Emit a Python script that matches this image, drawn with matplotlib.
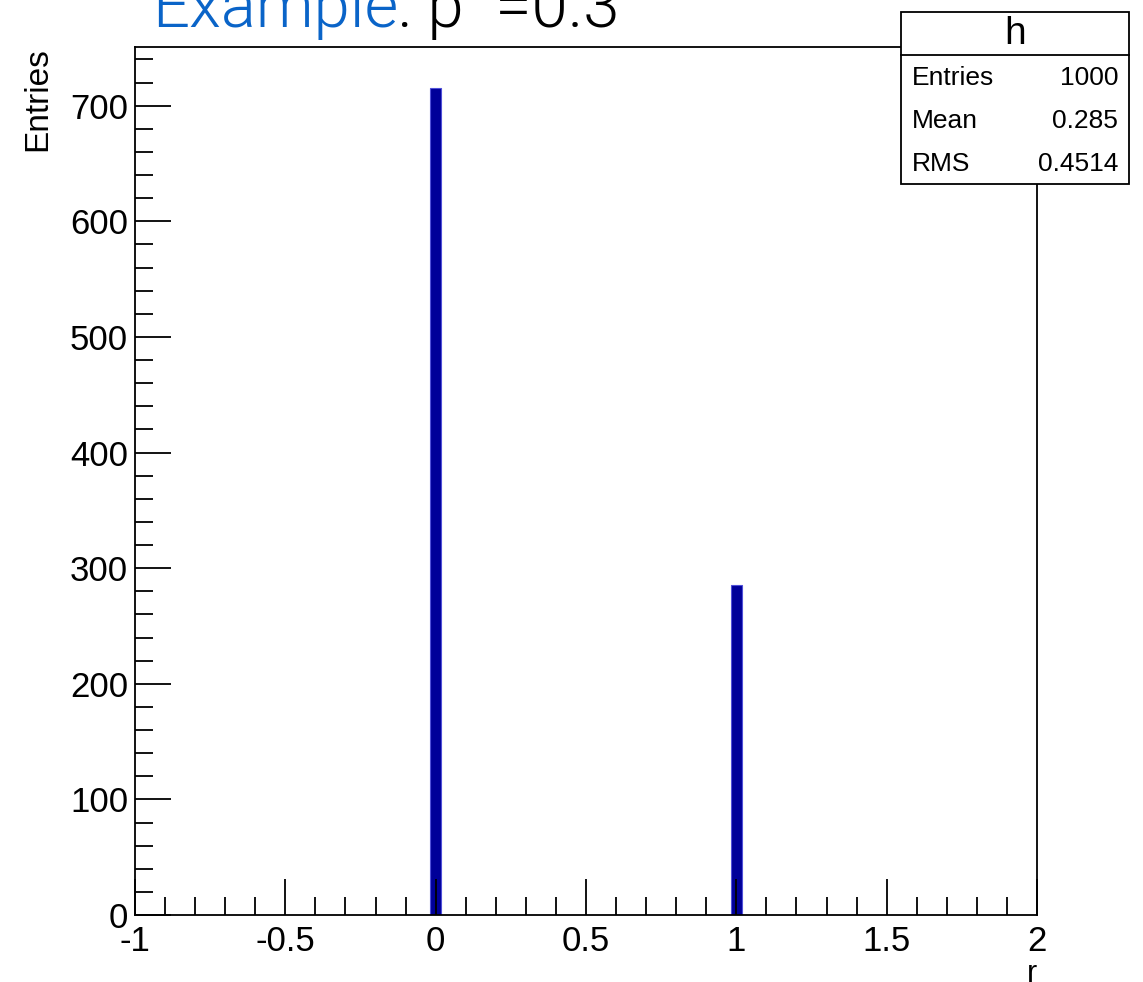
import matplotlib
matplotlib.use("Agg")
import matplotlib.pyplot as plt
from matplotlib.patches import Rectangle
from matplotlib.ticker import MultipleLocator

plt.rcParams["font.family"] = ["Liberation Sans", "DejaVu Sans"]

# histogram "h": Bernoulli sample, p = 0.3
bin_centers = [0.0, 1.0]
bin_counts = [715, 285]
bin_width = 0.035

stats_title = "h"
stats_names = ["Entries", "Mean", "RMS"]
stats_values = ["1000", "0.285", "0.4514"]

W, H = 1143, 982
fig = plt.figure(figsize=(W / 100, H / 100), dpi=100)
ax = fig.add_axes([135 / W, 1 - 915 / H, (1037 - 135) / W, (915 - 47) / H])

ax.bar(bin_centers, bin_counts, width=bin_width, color="#000099",
       edgecolor="#5050d8", linewidth=0.8, zorder=1)

ax.set_xlim(-1, 2)
ax.set_ylim(0, 1.05 * max(bin_counts))

ax.xaxis.set_major_locator(MultipleLocator(0.5))
ax.xaxis.set_minor_locator(MultipleLocator(0.1))
ax.yaxis.set_major_locator(MultipleLocator(100))
ax.yaxis.set_minor_locator(MultipleLocator(20))
ax.tick_params(which="both", direction="in", top=False, right=False,
               width=1.3, color="black", zorder=3)
ax.tick_params(which="major", length=26, labelsize=25, pad=5)
ax.tick_params(axis="x", which="major", pad=7)
ax.tick_params(which="minor", length=13)
ax.set_xticks([-1, -0.5, 0, 0.5, 1, 1.5, 2])
ax.set_xticklabels(["-1", "-0.5", "0", "0.5", "1", "1.5", "2"])
for s in ax.spines.values():
    s.set_linewidth(1.3)

ax.set_ylabel("Entries", fontsize=24, loc="top", labelpad=12)
ax.set_xlabel("r", fontsize=22, loc="right", labelpad=1)

# title, clipped at the top of the canvas
title_font = dict(fontsize=47, family=["Roboto", "DejaVu Sans"], fontweight=300, va="baseline")
t1 = fig.text(152 / W, 1 - 27 / H, "Example", color="#0a64c8", **title_font)
renderer = fig.canvas.get_renderer()
x_end = t1.get_window_extent(renderer).x1
fig.text(x_end / W, 1 - 27 / H, ": p  =0.3", color="black", **title_font)

# stats box
bx0, bx1, by0, by1, hy = 901, 1129, 12, 184, 55
fig.patches.append(Rectangle((bx0 / W, 1 - by1 / H), (bx1 - bx0) / W, (by1 - by0) / H,
                             transform=fig.transFigure, facecolor="white",
                             edgecolor="black", linewidth=1.3, zorder=5))
fig.lines.append(plt.Line2D([bx0 / W, bx1 / W], [1 - hy / H, 1 - hy / H],
                            transform=fig.transFigure, color="black", linewidth=1.3, zorder=6))
fig.text((bx0 + bx1) / 2 / W, 1 - 34 / H, stats_title, fontsize=28,
         ha="center", va="center", zorder=7)
for i, (name, val) in enumerate(zip(stats_names, stats_values)):
    y = 1 - (78 + 43 * i) / H
    fig.text(912 / W, y, name, fontsize=19, ha="left", va="center", zorder=7)
    fig.text(1118 / W, y, val, fontsize=19, ha="right", va="center", zorder=7)

fig.savefig("out.png", dpi=100)
